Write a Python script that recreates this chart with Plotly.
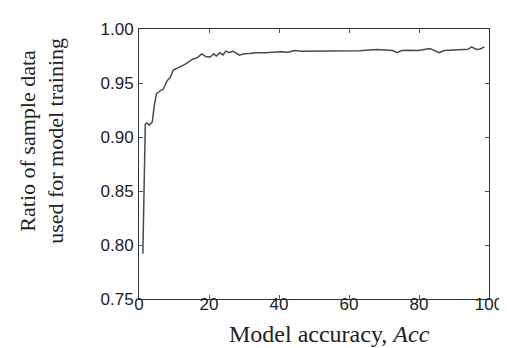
import plotly.graph_objects as go

acc = [1.1, 1.8, 2.2, 2.9, 3.8, 4.4, 5.0, 6.1, 6.9, 8.0, 8.9, 9.8, 11.7, 13.5,
       15.3, 16.7, 17.9, 19.2, 20.4, 21.3, 22.1, 23.1, 24.0, 24.8, 25.9, 26.8,
       28.7, 30.0, 31.5, 33.5, 36.1, 38.0, 40.6, 42.5, 44.4, 46.5, 50.0, 53.0,
       56.0, 60.0, 63.0, 66.0, 67.9, 70.0, 72.5, 73.8, 75.0, 77.0, 79.8, 81.5,
       83.1, 84.5, 85.8, 87.2, 89.0, 91.0, 92.7, 94.0, 95.0, 96.4, 97.5, 98.7]
ratio = [0.792, 0.912, 0.913, 0.911, 0.914, 0.930, 0.940, 0.943, 0.944, 0.952,
         0.955, 0.962, 0.965, 0.968, 0.972, 0.9735, 0.977, 0.9743, 0.974, 0.977,
         0.975, 0.978, 0.976, 0.9795, 0.978, 0.9795, 0.9758, 0.977, 0.9773,
         0.978, 0.978, 0.9785, 0.979, 0.9785, 0.980, 0.9795, 0.9795, 0.980,
         0.9795, 0.980, 0.9798, 0.9805, 0.981, 0.9805, 0.980, 0.978, 0.980,
         0.9803, 0.980, 0.981, 0.9819, 0.980, 0.978, 0.980, 0.9805, 0.9808,
         0.981, 0.9812, 0.9834, 0.981, 0.9815, 0.9834]

x_ticks = [0, 20, 40, 60, 80, 100]
y_ticks = [0.75, 0.80, 0.85, 0.90, 0.95, 1.00]

fig = go.Figure()
fig.add_trace(go.Scatter(x=acc, y=ratio, mode="lines",
                         line=dict(color="#4a4a4a", width=1.5)))

axis_common = dict(showgrid=False, zeroline=False, showline=True,
                   linecolor="#333333", linewidth=1, mirror="ticks",
                   ticks="inside", ticklen=4, tickcolor="#555555",
                   ticklabeloverflow="allow",
                   tickfont=dict(family="Liberation Sans, Arial", size=17, color="#222222"))

fig.update_xaxes(range=[0, 100], tickvals=x_ticks, ticklabelstandoff=-10,
                 ticktext=[str(v) for v in x_ticks], **axis_common)
fig.update_yaxes(range=[0.75, 1.00], tickvals=y_ticks, ticklabelstandoff=1,
                 ticktext=[f"{v:.2f}" for v in y_ticks], **axis_common)

fig.add_annotation(text="Model accuracy, <i>Acc</i>", xref="paper", yref="paper",
                   x=(328 - 131) / 362, y=-(327 - 291) / 276, xanchor="center", yanchor="middle",
                   showarrow=False,
                   font=dict(family="Liberation Serif, Times New Roman", size=24, color="#222222"))
fig.add_annotation(text="Ratio of sample data<br>used for model training",
                   xref="paper", yref="paper", x=(30 - 131) / 362, y=(291 - 129) / 276,
                   xanchor="center", yanchor="middle", textangle=-90,
                   showarrow=False,
                   font=dict(family="Liberation Serif, Times New Roman", size=22, color="#222222"))

fig.update_layout(width=507, height=348, margin=dict(l=131, r=14, t=15, b=57),
                  paper_bgcolor="white", plot_bgcolor="white", showlegend=False)

fig.write_html("out.html")
